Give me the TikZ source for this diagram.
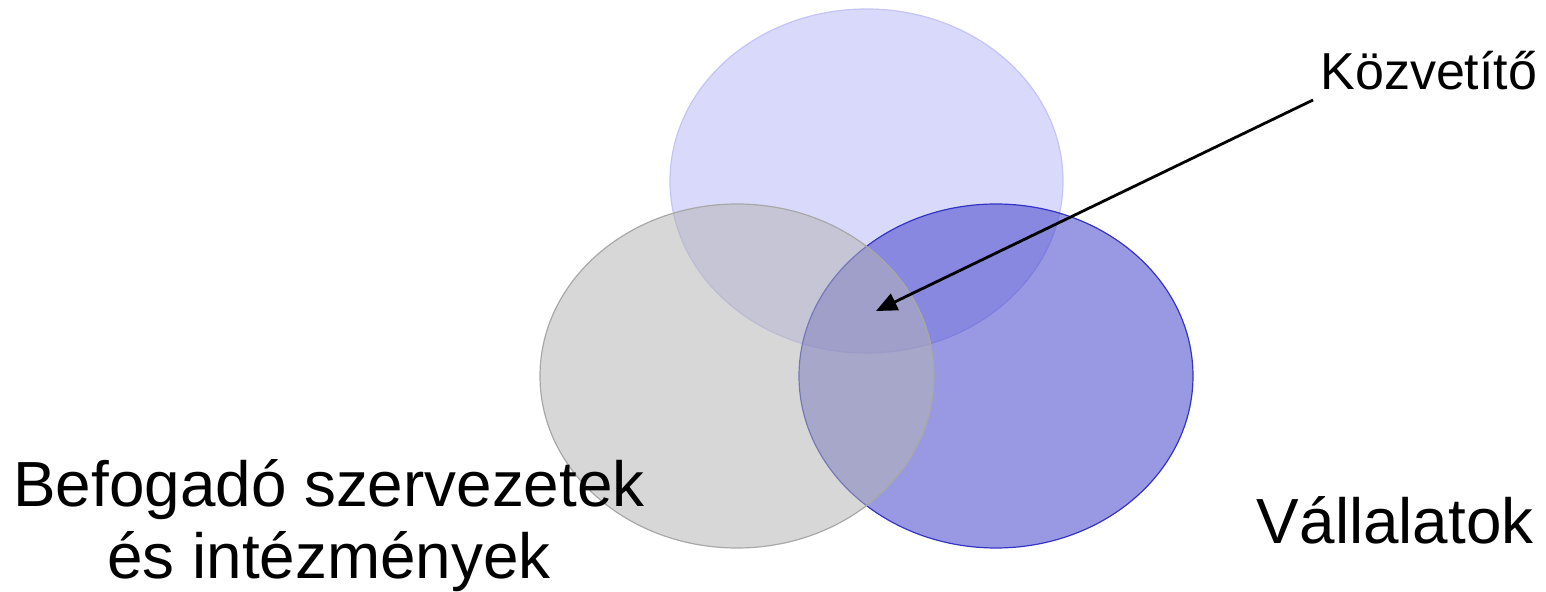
\documentclass[tikz,border=0pt]{standalone}
\usepackage{fontspec}
\setmainfont{Liberation Sans}
\usetikzlibrary{arrows.meta}

\definecolor{topfill}{RGB}{217,217,252}
\definecolor{topline}{RGB}{196,196,246}
\definecolor{rightfill}{RGB}{70,70,204}
\definecolor{rightline}{RGB}{52,52,196}
\definecolor{grayfill}{RGB}{180,180,180}
\definecolor{grayline}{RGB}{168,168,168}

\begin{document}
\begin{tikzpicture}[x=0.5pt,y=-0.5pt,
  setshape/.style={line width=0.6pt},
  biglabel/.style={font=\fontsize{31.9}{36}\selectfont, inner sep=0pt, align=center},
  smalllabel/.style={font=\fontsize{26}{31}\selectfont, inner sep=0pt},
  pointer/.style={line width=1.4pt, -{Triangle[length=10.5pt,width=9pt]}}]
  \useasboundingbox (0,0) rectangle (1546,592);

  % the three sets
  \path[setshape, fill=topfill, draw=topline]
    (866.5,181) ellipse [x radius=98.25pt, y radius=86pt];
  \path[setshape, fill=rightfill, fill opacity=0.55, draw=rightline]
    (996,376) ellipse [x radius=98.5pt, y radius=86pt];
  \path[setshape, fill=grayfill, fill opacity=0.53, draw=grayline]
    (737,376) ellipse [x radius=98.5pt, y radius=86pt];

  % labels
  \node[biglabel, anchor=base] (befog) at (329,578.5) {Befogadó szervezetek\\és intézmények};
  \node[biglabel, anchor=base east] (vall) at (1534,544) {Vállalatok};
  \node[smalllabel, anchor=base west] (kozv) at (1320,90) {Közvetítő};

  % pointer into the common part
  \coordinate (common) at (876,311);
  \draw[pointer] ([shift={(-7,10)}]kozv.base west) -- (common);
\end{tikzpicture}
\end{document}
